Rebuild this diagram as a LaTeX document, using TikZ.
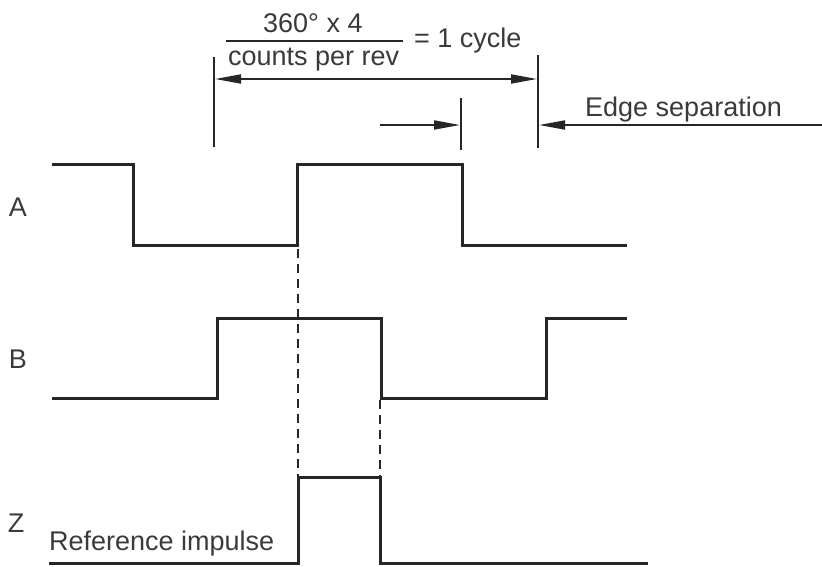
\documentclass[tikz,border=0pt]{standalone}
\usepackage{fontspec}
\setmainfont{Liberation Sans}
\usetikzlibrary{arrows.meta}
\definecolor{txt}{HTML}{3A3A3A}
\definecolor{ln}{HTML}{262626}
\begin{document}
\begin{tikzpicture}[x=1pt,y=-1pt,
  sig/.style={line width=3pt, draw=ln, line join=miter},
  thinline/.style={line width=1.8pt, draw=ln},
  dashline/.style={line width=1.6pt, draw=ln, dash pattern=on 9pt off 6pt},
  lbl/.style={inner sep=0pt, text=txt, font=\fontsize{27}{30}\selectfont},
]
\useasboundingbox (0,0) rectangle (822,567);
% labels
\node[lbl] (la) at (18,207) {A};
\node[lbl] (lb) at (18,359) {B};
\node[lbl] (lz) at (16,523) {Z};
\node[lbl, anchor=base west] (ref) at (49,550) {Reference impulse};
\node[lbl, anchor=base west] (edge) at (585,117) {Edge separation};
\node[lbl, anchor=base west] (num) at (263,33) {360° x 4};
\node[lbl, anchor=base west] (den) at (228,66) {counts per rev};
\node[lbl, anchor=base west] (cyc) at (414,48) {= 1 cycle};
\coordinate (barL) at (226,41);
\coordinate (barR) at (403,41);
\draw[thinline] (barL) -- (barR);
% waveforms
\draw[sig] (52,165) -- (133,165) -- (133,245) -- (297,245) -- (297,165) -- (462,165) -- (462,245) -- (627,245);
\draw[sig] (52,398) -- (217,398) -- (217,318) -- (381,318) -- (381,398) -- (546,398) -- (546,318) -- (627,318);
\draw[sig] (49,563) -- (298,563) -- (298,477) -- (380,477) -- (380,563) -- (648,563);
% dashed guides
\coordinate (d1a) at (298,249);
\coordinate (d1b) at (298,476);
\coordinate (d2a) at (380,400);
\coordinate (d2b) at (380,476);
\draw[dashline] (d1a) -- (d1b);
\draw[dashline] (d2a) -- (d2b);
% dimension lines
\coordinate (v1t) at (214,57);  \coordinate (v1b) at (214,147);
\coordinate (v2t) at (538,55);  \coordinate (v2b) at (538,148);
\coordinate (v3t) at (461,98);  \coordinate (v3b) at (461,150);
\draw[thinline] (v1t) -- (v1b);
\draw[thinline] (v2t) -- (v2b);
\draw[thinline] (v3t) -- (v3b);
\coordinate (cL) at (215,79);
\coordinate (cR) at (537,79);
\draw[thinline, {Triangle[length=26pt,width=9pt]}-{Triangle[length=26pt,width=9pt]}] (cL) -- (cR);
\coordinate (sA) at (380,125);
\coordinate (sB) at (460,125);
\draw[thinline, -{Triangle[length=26pt,width=9pt]}] (sA) -- (sB);
\coordinate (eA) at (822,125);
\coordinate (eB) at (539,125);
\draw[thinline, -{Triangle[length=26pt,width=9pt]}] (eA) -- (eB);
\end{tikzpicture}
\end{document}
